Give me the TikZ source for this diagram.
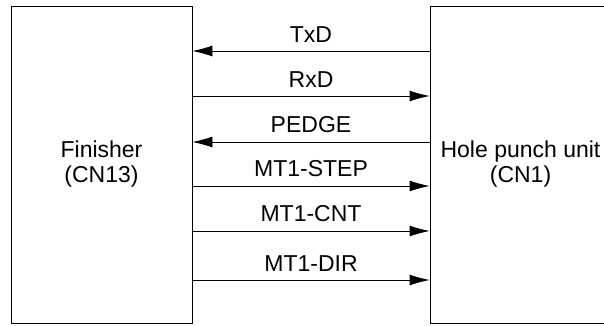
\documentclass[tikz,border=0pt]{standalone}
\usepackage{fontspec}
\setmainfont{Liberation Sans}
\usetikzlibrary{arrows.meta}
\tikzstyle{bloco}=[draw,line width=0.8pt,inner sep=0pt,minimum width=181pt,minimum height=317pt,align=center]
\tikzstyle{sinal}=[line width=0.8pt,-{Latex[length=20pt,width=11pt]}]
\tikzstyle{rotulo}=[inner sep=0pt,midway,above=8.5pt]

\begin{document}
\begin{tikzpicture}[x=1pt,y=-1pt,font=\fontsize{23}{25}\selectfont]
    \useasboundingbox (0,0) rectangle (604,326);
    \node [bloco] (finisher) at (101.5,164.5) {Finisher\\(CN13)};
    \node [bloco] (punch) at (520.5,164.5) {Hole punch unit\\(CN1)};
    \draw [sinal] (punch.west |- 0,51) -- (finisher.east |- 0,51) node [rotulo] {TxD};
    \draw [sinal] (finisher.east |- 0,96) -- (punch.west |- 0,96) node [rotulo] {RxD};
    \draw [sinal] (punch.west |- 0,142) -- (finisher.east |- 0,142) node [rotulo] {PEDGE};
    \draw [sinal] (finisher.east |- 0,186) -- (punch.west |- 0,186) node [rotulo] {MT1-STEP};
    \draw [sinal] (finisher.east |- 0,231) -- (punch.west |- 0,231) node [rotulo] {MT1-CNT};
    \draw [sinal] (finisher.east |- 0,280) -- (punch.west |- 0,280) node [rotulo] {MT1-DIR};
\end{tikzpicture}
\end{document}
